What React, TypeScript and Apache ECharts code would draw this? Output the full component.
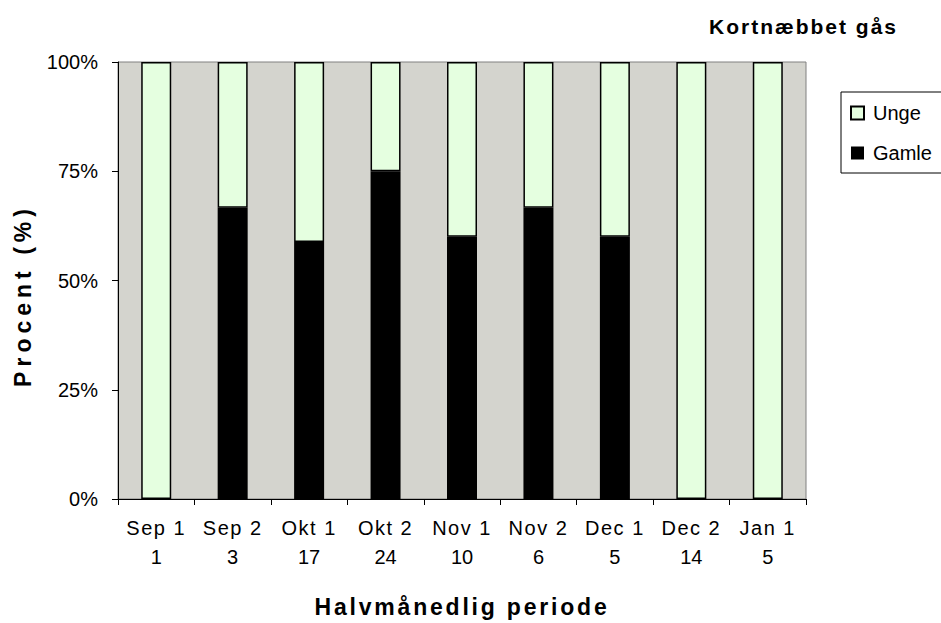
import React, { useEffect, useRef } from "react";
import * as echarts from "echarts";

const periods = ["Sep 1", "Sep 2", "Okt 1", "Okt 2", "Nov 1", "Nov 2", "Dec 1", "Dec 2", "Jan 1"];
const gamleCount = [0, 2, 10, 18, 6, 4, 3, 0, 0];
const ungeCount = [1, 1, 7, 6, 4, 2, 2, 14, 5];
const yTicks = [0, 25, 50, 75, 100];

const FONT = "'Liberation Sans', Arial, sans-serif";
const TITLE = "Kortnæbbet gås";
const XNAME = "Halvmånedlig periode";
const YNAME = "Procent (%)";

export default function App() {
  const ref = useRef<HTMLDivElement>(null);
  useEffect(() => {
    if (!ref.current) return;
    const chart = echarts.init(ref.current, undefined, { renderer: "svg" });
    const totals = periods.map((_, i) => gamleCount[i] + ungeCount[i]);
    const labels = periods.map((p, i) => `${p}\n${totals[i]}`);
    const gamlePct = gamleCount.map((v, i) => (v / totals[i]) * 100);
    const ungePct = ungeCount.map((v, i) => (v / totals[i]) * 100);
    chart.setOption({
      animation: false,
      backgroundColor: "#ffffff",
      textStyle: { fontFamily: FONT },
      title: {
        text: TITLE,
        right: 66,
        top: 11,
        textStyle: { fontSize: 21, fontWeight: "bold", color: "#000", fontFamily: FONT },
      },
      legend: {
        data: [
          { name: "Unge", icon: "rect" },
          { name: "Gamle", icon: "rect" },
        ],
        orient: "vertical",
        left: 841,
        top: 92,
        padding: [11, 50, 10, 9],
        itemGap: 20,
        itemWidth: 13,
        itemHeight: 13,
        borderColor: "#000",
        borderWidth: 1,
        borderRadius: 0,
        backgroundColor: "#fff",
        textStyle: { fontSize: 20, color: "#000", fontFamily: FONT, padding: [0, 0, 0, 4] },
      },
      grid: { left: 118, right: 135, top: 62, bottom: 124, show: true, backgroundColor: "#D4D4CE", borderColor: "#808080", borderWidth: 1 },
      xAxis: {
        type: "category",
        data: labels,
        name: XNAME,
        nameLocation: "middle",
        nameGap: 96,
        nameTextStyle: { fontSize: 23, fontWeight: "bold", color: "#000", fontFamily: FONT },
        axisLine: { lineStyle: { color: "#000", width: 1 } },
        axisTick: { show: true, length: 6, lineStyle: { color: "#000" } },
        axisLabel: { fontSize: 20, color: "#000", lineHeight: 29, margin: 14, interval: 0, fontFamily: FONT },
        splitLine: { show: false },
      },
      yAxis: {
        type: "value",
        min: yTicks[0],
        max: yTicks[yTicks.length - 1],
        interval: 25,
        name: YNAME,
        nameLocation: "middle",
        nameGap: 84,
        nameTextStyle: { fontSize: 23, fontWeight: "bold", color: "#000", fontFamily: FONT },
        axisLine: { show: true, lineStyle: { color: "#000", width: 1 } },
        axisTick: { show: true, length: 6, lineStyle: { color: "#000" } },
        axisLabel: { formatter: "{value}%", fontSize: 20, color: "#000", margin: 20, fontFamily: FONT },
        splitLine: { show: false },
      },
      series: [
        {
          name: "Gamle",
          type: "bar",
          stack: "total",
          barWidth: 30,
          data: gamlePct,
          itemStyle: { color: "#000000", borderColor: "#000", borderWidth: 0 },
        },
        {
          name: "Unge",
          type: "bar",
          stack: "total",
          barWidth: 30,
          data: ungePct,
          itemStyle: { color: "#E5FFE0", borderColor: "#000", borderWidth: 1.5 },
        },
      ],
    });
    const spacing: Record<string, string> = { [TITLE]: "2", [XNAME]: "2.8", [YNAME]: "5" };
    const svg = ref.current.querySelector("svg");
    if (svg) {
      svg.querySelectorAll("text").forEach((t) => {
        const s = (t.textContent || "").trim();
        if (spacing[s]) t.setAttribute("letter-spacing", spacing[s]);
        else if (periods.includes(s)) t.setAttribute("letter-spacing", "1.5");
        if (s === YNAME) t.setAttribute("dx", "-15");
      });
    }
    return () => chart.dispose();
  }, []);
  return <div ref={ref} style={{ position: "fixed", left: 0, top: 0, width: 941, height: 623 }} />;
}
